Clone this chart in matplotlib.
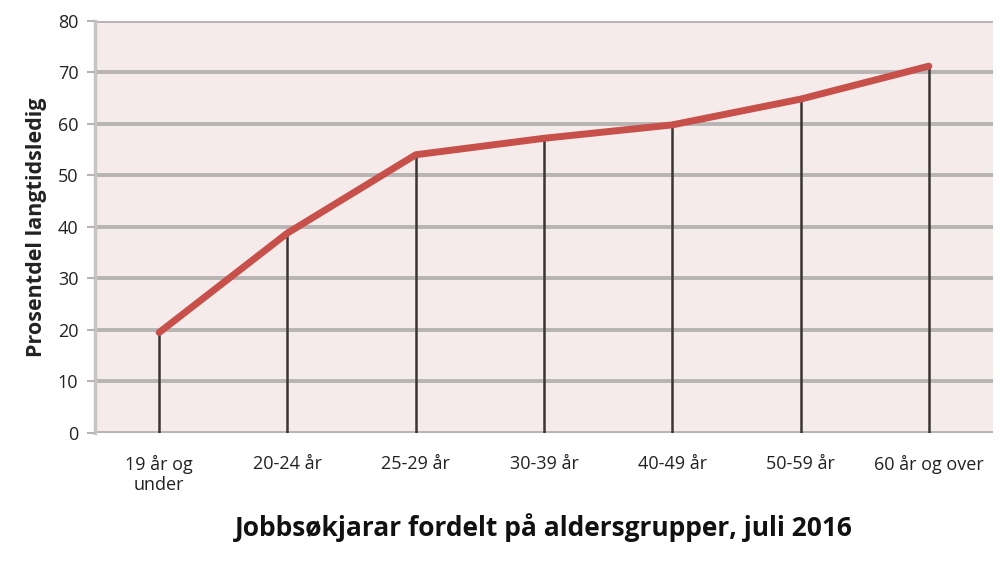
import matplotlib.pyplot as plt

# Data
categories = ['19 år og\nunder', '20-24 år', '25-29 år', '30-39 år',
              '40-49 år', '50-59 år', '60 år og over']
values = [19.5, 38.8, 54.0, 57.2, 59.8, 64.8, 71.2]
y_ticks = [0, 10, 20, 30, 40, 50, 60, 70, 80]

plt.rcParams['font.family'] = ['Open Sans', 'DejaVu Sans']

fig = plt.figure(figsize=(10, 5.63), dpi=100)
ax = fig.add_axes([0.095, 0.231, 0.898, 0.732])
ax.set_facecolor('#f5ebea')

x = list(range(len(categories)))

# Grid lines
for t in y_ticks:
    ax.axhline(t, color='#b8b4b4', lw=2.8, zorder=1)

# Drop lines from zero to each point
ax.vlines(x, 0, values, color='#3a3434', lw=1.8, zorder=2)

# Main line
ax.plot(x, values, color='#c8504a', lw=5, solid_capstyle='round',
        solid_joinstyle='round', zorder=3)

ax.set_xlim(-0.5, len(categories) - 0.5)
ax.set_ylim(0, 80)
ax.set_yticks(y_ticks)
ax.set_xticks(x)
ax.set_xticklabels(categories, fontsize=13, color='#222222', linespacing=1.1)
ax.tick_params(axis='x', length=0, pad=16)
ax.tick_params(axis='y', length=6, width=1.5, color='#b8b4b4',
               labelsize=13, labelcolor='#222222', pad=6)

for s in ['top', 'right', 'bottom']:
    ax.spines[s].set_visible(False)
ax.spines['left'].set_color('#c8c4c4')
ax.spines['left'].set_linewidth(2.5)
ax.spines['left'].set_zorder(1)

ax.set_ylabel('Prosentdel langtidsledig', fontsize=15.5, fontweight='bold',
              color='#222222', labelpad=8)
ax.set_xlabel('Jobbsøkjarar fordelt på aldersgrupper, juli 2016', fontsize=19,
              fontweight='bold', color='#111111', labelpad=14)

fig.savefig('out.png', dpi=100, facecolor='white')
